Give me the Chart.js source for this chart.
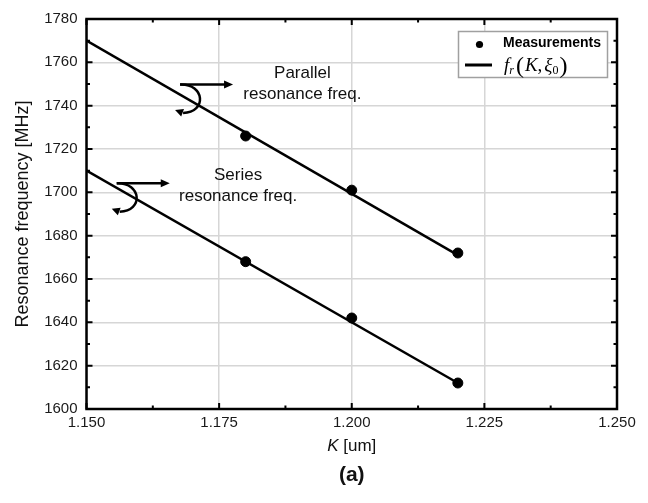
<!DOCTYPE html>
<html>
<head>
<meta charset="utf-8">
<script src="https://cdn.jsdelivr.net/npm/chart.js@4"></script>
<style>
html,body{margin:0;padding:0;background:#fff;}
#wrap{width:648px;height:503px;position:relative;}
</style>
</head>
<body>
<div id="wrap"><canvas id="c" width="648" height="503"></canvas></div>
<script>
// ---- data ----
const measK = [1.18, 1.20, 1.22];
const parallelMeas = [1726, 1701, 1672];
const seriesMeas = [1668, 1642, 1612];
const fitK = [1.15, 1.22];
const parallelFit = [1770, 1671];
const seriesFit = [1710, 1612];
const xTicks = [1.150, 1.175, 1.200, 1.225, 1.250];
const yTicks = [1600, 1620, 1640, 1660, 1680, 1700, 1720, 1740, 1760, 1780];

const pts = (xs, ys) => xs.map((x, i) => ({x: x, y: ys[i]}));

// annotations (data coordinates)
const annotations = [
  {lines: ['Parallel', 'resonance freq.'], k: 1.1907, v: [1755.1, 1745.4], arrow: {k: 1.16764, v: 1749.8}},
  {lines: ['Series', 'resonance freq.'], k: 1.17858, v: [1708, 1698], arrow: {k: 1.1557, v: 1704.2}}
];

const SANS = '"Liberation Sans", Arial, sans-serif';

function arrowHead(ctx, tipX, tipY, fromX, fromY, len, half) {
  const dx = tipX - fromX, dy = tipY - fromY;
  const d = Math.hypot(dx, dy); const ux = dx / d, uy = dy / d;
  const bx = tipX - ux * len, by = tipY - uy * len;
  ctx.beginPath();
  ctx.moveTo(tipX, tipY);
  ctx.lineTo(bx - uy * half, by + ux * half);
  ctx.lineTo(bx + uy * half, by - ux * half);
  ctx.closePath();
  ctx.fill();
}

const decor = {
  id: 'decor',
  afterDraw(chart) {
    const ctx = chart.ctx;
    const xs = chart.scales.x, ys = chart.scales.y;
    const a = chart.chartArea;
    ctx.save();
    // frame
    ctx.strokeStyle = '#000';
    ctx.lineWidth = 2.5;
    ctx.strokeRect(a.left, a.top, a.right - a.left, a.bottom - a.top);
    // ticks (inward)
    ctx.lineWidth = 2;
    const xStep = 0.025, yStep = 20;
    for (let v = 1.15; v <= 1.25 + 1e-9; v += xStep / 2) {
      const major = Math.abs(Math.round(v / xStep) * xStep - v) < 1e-6;
      const len = major ? 6 : 3.5;
      const px = xs.getPixelForValue(v);
      ctx.beginPath();
      ctx.moveTo(px, a.bottom); ctx.lineTo(px, a.bottom - len);
      ctx.moveTo(px, a.top); ctx.lineTo(px, a.top + len);
      ctx.stroke();
    }
    for (let v = 1600; v <= 1780; v += yStep / 2) {
      const major = v % yStep === 0;
      const len = major ? 6 : 3.5;
      const py = ys.getPixelForValue(v);
      ctx.beginPath();
      ctx.moveTo(a.left, py); ctx.lineTo(a.left + len, py);
      ctx.moveTo(a.right, py); ctx.lineTo(a.right - len, py);
      ctx.stroke();
    }
    // annotations
    ctx.fillStyle = '#111';
    ctx.font = '17px ' + SANS;
    ctx.textAlign = 'center';
    ctx.textBaseline = 'middle';
    annotations.forEach(an => {
      const cx = xs.getPixelForValue(an.k);
      ctx.fillStyle = '#111';
      an.lines.forEach((t, i) => ctx.fillText(t, cx, ys.getPixelForValue(an.v[i])));
      const ax = xs.getPixelForValue(an.arrow.k), ay = ys.getPixelForValue(an.arrow.v);
      ctx.strokeStyle = '#000'; ctx.fillStyle = '#000';
      ctx.lineWidth = 2.5;
      ctx.beginPath();
      ctx.moveTo(ax, ay); ctx.lineTo(ax + 46, ay);
      ctx.stroke();
      arrowHead(ctx, ax + 53, ay, ax, ay, 9, 4);
      ctx.beginPath();
      ctx.moveTo(ax, ay);
      ctx.bezierCurveTo(ax + 25, ay - 1, ax + 27, ay + 28, ax + 3, ay + 28.5);
      ctx.stroke();
      arrowHead(ctx, ax - 5, ay + 25.5, ax + 3, ay + 28.5, 8, 4);
    });
    // legend
    const lx = 458.5, ly = 31.5, lw = 149, lh = 46;
    ctx.fillStyle = '#fff';
    ctx.fillRect(lx, ly, lw, lh);
    ctx.strokeStyle = '#a0a0a0'; ctx.lineWidth = 1.5;
    ctx.strokeRect(lx, ly, lw, lh);
    ctx.fillStyle = '#000';
    ctx.beginPath(); ctx.arc(479.5, 44.5, 3.6, 0, Math.PI * 2); ctx.fill();
    ctx.font = 'bold 14px ' + SANS;
    ctx.textAlign = 'left'; ctx.textBaseline = 'middle';
    ctx.fillText('Measurements', 503, 43);
    ctx.strokeStyle = '#000'; ctx.lineWidth = 3;
    ctx.beginPath(); ctx.moveTo(465, 65); ctx.lineTo(492, 65); ctx.stroke();
    // formula f_r(K, xi_0)
    let fx = 504; const fy = 65;
    ctx.textBaseline = 'alphabetic';
    const base = fy + 6;
    const seg = (t, font, dy) => { ctx.font = font; ctx.fillText(t, fx, base + (dy || 0)); fx += ctx.measureText(t).width; };
    const SER = '"Liberation Serif", "Times New Roman", serif';
    seg('f', 'italic 19px ' + SER);
    seg('r', 'italic 12px ' + SER, 3);
    fx += 2;
    seg('(', '24px ' + SER, 2);
    fx += 1;
    seg('K', 'italic 19px ' + SER);
    seg(',', '19px ' + SER);
    fx += 2;
    seg('ξ', 'italic 19px ' + SER);
    seg('0', '12px ' + SER, 3);
    fx += 1;
    seg(')', '24px ' + SER, 2);
    // axis titles
    ctx.fillStyle = '#111';
    ctx.textBaseline = 'middle';
    ctx.save();
    ctx.translate(23, (a.top + a.bottom) / 2);
    ctx.rotate(-Math.PI / 2);
    ctx.textAlign = 'center';
    ctx.font = '18px ' + SANS;
    ctx.fillText('Resonance frequency [MHz]', 0, 0);
    ctx.restore();
    const cxm = (a.left + a.right) / 2;
    ctx.font = 'italic 17px ' + SANS;
    const kW = ctx.measureText('K ').width;
    ctx.font = '17px ' + SANS;
    const rW = ctx.measureText('[um]').width;
    let tx = cxm - (kW + rW) / 2;
    ctx.textAlign = 'left';
    ctx.font = 'italic 17px ' + SANS; ctx.fillText('K ', tx, 446);
    ctx.font = '17px ' + SANS; ctx.fillText('[um]', tx + kW, 446);
    ctx.textAlign = 'center';
    ctx.font = 'bold 21px ' + SANS;
    ctx.fillText('(a)', cxm, 475);
    ctx.restore();
  }
};

new Chart(document.getElementById('c'), {
  type: 'scatter',
  data: {
    datasets: [
      {data: pts(measK, parallelMeas), pointRadius: 5, pointBackgroundColor: '#000', pointBorderColor: '#000', showLine: false},
      {data: pts(measK, seriesMeas), pointRadius: 5, pointBackgroundColor: '#000', pointBorderColor: '#000', showLine: false},
      {data: pts(fitK, parallelFit), showLine: true, borderColor: '#000', borderWidth: 2.5, pointRadius: 0},
      {data: pts(fitK, seriesFit), showLine: true, borderColor: '#000', borderWidth: 2.5, pointRadius: 0}
    ]
  },
  options: {
    responsive: false,
    animation: false,
    events: [],
    layout: {padding: {left: 0, top: 19, right: 31, bottom: 0}},
    plugins: {legend: {display: false}, tooltip: {enabled: false}},
    scales: {
      x: {
        type: 'linear', min: 1.15, max: 1.25,
        afterFit: s => { s.height = 94; },
        afterBuildTicks: s => { s.ticks = xTicks.map(v => ({value: v})); },
        ticks: {callback: v => v.toFixed(3), color: '#1a1a1a', font: {family: SANS, size: 15}, padding: 5, maxRotation: 0},
        grid: {color: '#d6d6d6', lineWidth: 1.5, drawTicks: false},
        border: {display: false}
      },
      y: {
        type: 'linear', min: 1600, max: 1780,
        afterFit: s => { s.width = 86.5; },
        afterBuildTicks: s => { s.ticks = yTicks.map(v => ({value: v})); },
        ticks: {callback: v => String(v), color: '#1a1a1a', font: {family: SANS, size: 15}, padding: 9},
        grid: {color: '#d6d6d6', lineWidth: 1.5, drawTicks: false},
        border: {display: false}
      }
    }
  },
  plugins: [decor]
});
</script>
</body>
</html>
